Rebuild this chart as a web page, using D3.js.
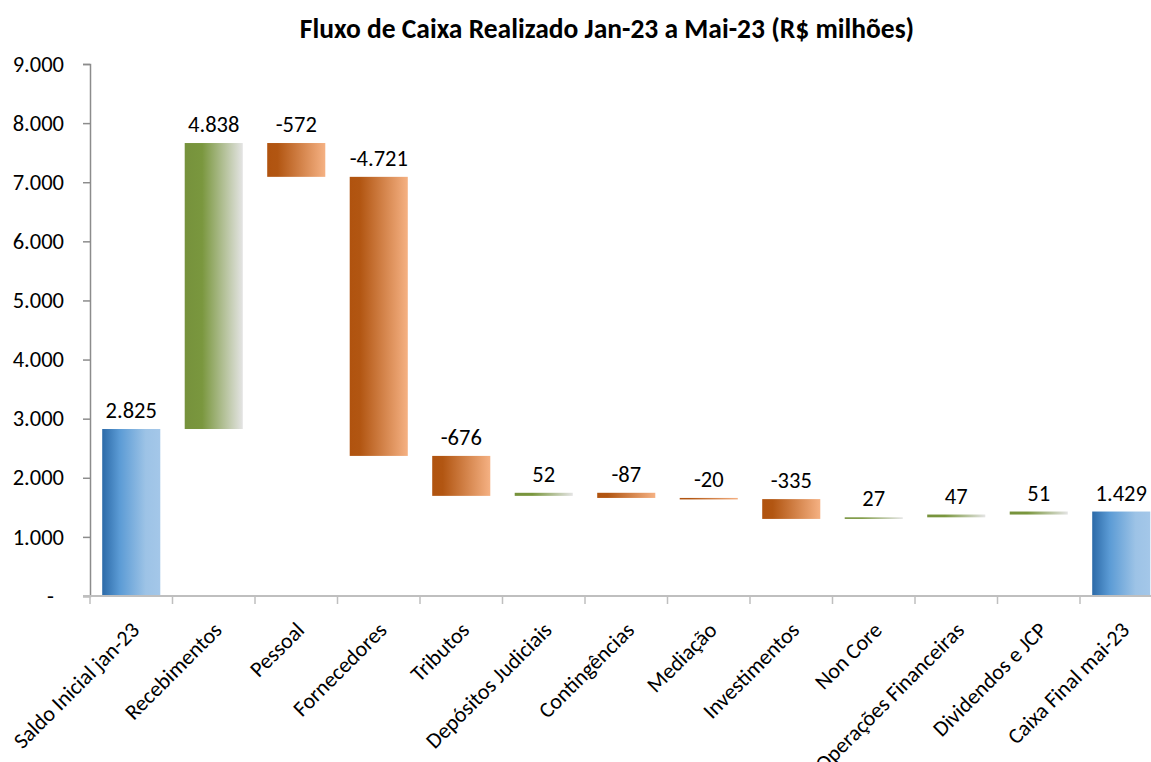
<!DOCTYPE html>
<html>
<head>
<meta charset="utf-8">
<script src="https://cdn.jsdelivr.net/npm/d3@7"></script>
<style>
  body { margin: 0; background: #fff; overflow: hidden; }
  svg { font-family: Calibri, Carlito, Lato, sans-serif; display: block; }
</style>
</head>
<body>
<svg id="Viz" width="1151" height="762"></svg>
<script>
// categories and monthly flows (R$ milhões)
var categories = ["Saldo Inicial jan-23", "Recebimentos", "Pessoal", "Fornecedores", "Tributos",
  "Depósitos Judiciais", "Contingências", "Mediação", "Investimentos", "Non Core",
  "Operações Financeiras", "Dividendos e JCP", "Caixa Final mai-23"];
var values = [2825, 4838, -572, -4721, -676, 52, -87, -20, -335, 27, 47, 51, 1429];
var kinds = ["total", "step", "step", "step", "step", "step", "step", "step", "step", "step", "step", "step", "total"];
var yTicks = [0, 1000, 2000, 3000, 4000, 5000, 6000, 7000, 8000, 9000];

var svg = d3.select("#Viz"),
    width = +svg.attr("width"),
    height = +svg.attr("height");

var br = d3.formatLocale({decimal: ",", thousands: ".", grouping: [3], currency: ["R$", ""], minus: "-"});
var fmt = br.format(",.0f");

// running totals for the waterfall
var run = 0;
var bars = categories.map(function(c, i) {
  var d = {name: c, value: values[i], kind: kinds[i]};
  if (d.kind == "total") { d.y0 = 0; d.y1 = d.value; run = d.value; }
  else { d.y0 = run; d.y1 = run + d.value; run = d.y1; }
  return d;
});

var x = d3.scaleBand()
  .domain(categories)
  .range([90, 90 + 82.5 * categories.length])
  .paddingInner(0.296)
  .paddingOuter(0.148);

var y = d3.scaleLinear()
  .domain([0, 9000])
  .range([596, 64]);

// gradients
var defs = svg.append("defs");
function grad(id, stops) {
  var g = defs.append("linearGradient").attr("id", id)
    .attr("x1", "0%").attr("x2", "100%").attr("y1", "0%").attr("y2", "0%");
  stops.forEach(function(s) {
    g.append("stop").attr("offset", s[0]).attr("stop-color", s[1]);
  });
}
grad("gBlue", [["0%", "#2c6aa8"], ["30%", "#5b9bd5"], ["75%", "#9dc3e6"], ["100%", "#a4c7e9"]]);
grad("gGreen", [["0%", "#76923c"], ["30%", "#7a973e"], ["100%", "#e4e4e4"]]);
grad("gOrange", [["0%", "#b0530f"], ["18%", "#b25612"], ["100%", "#f5b183"]]);

function fillFor(d) {
  if (d.kind == "total") return "url(#gBlue)";
  return d.value >= 0 ? "url(#gGreen)" : "url(#gOrange)";
}

// title
svg.append("text")
  .attr("x", 607)
  .attr("y", 38)
  .attr("text-anchor", "middle")
  .style("font-size", "27.5px")
  .style("font-weight", "bold")
  .text("Fluxo de Caixa Realizado Jan-23 a Mai-23 (R$ milhões)");

// y axis
var yAxis = svg.append("g")
  .attr("transform", "translate(90,0)")
  .call(d3.axisLeft(y).tickValues(yTicks).tickSize(7).tickPadding(19)
    .tickFormat(function(v) { return v === 0 ? "-" : fmt(v); }));
yAxis.select(".domain").attr("stroke", "#8c8c8c").attr("stroke-width", 1.5);
yAxis.selectAll(".tick line").attr("stroke", "#8c8c8c").attr("stroke-width", 1.5);
yAxis.selectAll(".tick text")
  .style("font-size", "22.5px")
  .attr("fill", "#000")
  .attr("font-family", "Calibri, Carlito, Lato, sans-serif");
yAxis.selectAll(".tick").filter(function(v) { return v === 0; })
  .select("text").attr("dx", -10);

// bars
svg.append("g").selectAll("rect")
  .data(bars)
  .enter()
  .append("rect")
  .attr("x", function(d) { return x(d.name); })
  .attr("width", x.bandwidth())
  .attr("y", function(d) { return y(Math.max(d.y0, d.y1)); })
  .attr("height", function(d) { return Math.max(1.5, Math.abs(y(d.y0) - y(d.y1))); })
  .attr("fill", fillFor);

// x axis
var xg = svg.append("g");
xg.append("line")
  .attr("x1", 83).attr("x2", width)
  .attr("y1", 596).attr("y2", 596)
  .attr("stroke", "#bfbfbf").attr("stroke-width", 2);
xg.selectAll("line.tk")
  .data(d3.range(categories.length + 1))
  .enter()
  .append("line")
  .attr("class", "tk")
  .attr("x1", function(i) { return 90 + i * x.step(); })
  .attr("x2", function(i) { return 90 + i * x.step(); })
  .attr("y1", 596).attr("y2", 604)
  .attr("stroke", "#bfbfbf").attr("stroke-width", 1.5);

xg.selectAll("text")
  .data(categories)
  .enter()
  .append("text")
  .attr("transform", function(c) {
    return "translate(" + (x(c) + x.bandwidth() / 2 + 4) + ",626) rotate(-45)";
  })
  .attr("text-anchor", "end")
  .attr("dy", "0.35em")
  .style("font-size", "22px")
  .text(function(c) { return c; });

// data labels
svg.append("g").selectAll("text")
  .data(bars)
  .enter()
  .append("text")
  .attr("x", function(d) { return x(d.name) + x.bandwidth() / 2; })
  .attr("y", function(d) { return y(Math.max(d.y0, d.y1)) - 11; })
  .attr("text-anchor", "middle")
  .style("font-size", "22.5px")
  .text(function(d) { return fmt(d.value); });
</script>
</body>
</html>
